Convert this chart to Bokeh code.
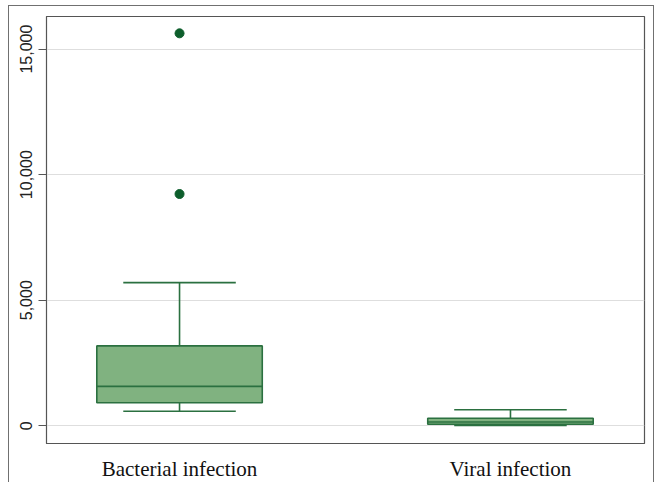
from bokeh.plotting import figure
from bokeh.models import FixedTicker, NumeralTickFormatter, Range1d, Spacer
from bokeh.layouts import column, row
from bokeh.embed import file_html
from bokeh.resources import INLINE

categories = ["Bacterial infection", "Viral infection"]
positions = [1, 2]
q1 = [915, 60]
median = [1570, 150]
q3 = [3180, 300]
lower = [580, 10]
upper = [5700, 640]
outlier_pos = [1, 1]
outlier_val = [15630, 9230]
y_ticks = [0, 5000, 10000, 15000]

box_w = 0.5
cap_w = 0.34

fill = "#80b280"
edge = "#2b7040"
pt = "#0d5e2c"

p = figure(width=646, height=477, output_backend="svg", toolbar_location=None,
           x_range=Range1d(0.598, 2.405), y_range=Range1d(-707, 16300),
           min_border_left=37, min_border_right=11, min_border_top=10, min_border_bottom=34)
p.styles = {"border-left": "1px solid #707070", "border-top": "1px solid #707070",
            "border-right": "1px solid #707070"}

p.outline_line_color = "#555555"
p.outline_line_width = 1.2
p.xgrid.grid_line_color = None
p.ygrid.grid_line_color = "#dedede"
p.ygrid.grid_line_width = 1.2

# whisker stems
p.segment(x0=positions, x1=positions, y0=q3, y1=upper, line_color=edge, line_width=1.6)
p.segment(x0=positions, x1=positions, y0=q1, y1=lower, line_color=edge, line_width=1.6)
# caps
p.segment(x0=[x - cap_w / 2 for x in positions], x1=[x + cap_w / 2 for x in positions],
          y0=upper, y1=upper, line_color=edge, line_width=1.6)
p.segment(x0=[x - cap_w / 2 for x in positions], x1=[x + cap_w / 2 for x in positions],
          y0=lower, y1=lower, line_color=edge, line_width=1.6)
# boxes
p.vbar(x=positions, width=box_w, top=q3, bottom=q1, fill_color=fill,
       line_color=edge, line_width=1.6)
# medians
p.segment(x0=[x - box_w / 2 for x in positions], x1=[x + box_w / 2 for x in positions],
          y0=median, y1=median, line_color=edge, line_width=1.6)
# outliers
p.scatter(x=outlier_pos, y=outlier_val, size=9, fill_color=pt, line_color=pt)

p.yaxis.ticker = FixedTicker(ticks=y_ticks)
p.yaxis.formatter = NumeralTickFormatter(format="0,0")
p.yaxis.major_label_orientation = "vertical"
p.yaxis.major_label_text_font = "Liberation Sans"
p.yaxis.major_label_text_font_size = "16px"
p.yaxis.major_label_text_color = "#222222"
p.yaxis.major_tick_out = 8
p.yaxis.major_tick_in = 0
p.yaxis.minor_tick_line_color = None
p.yaxis.major_tick_line_color = "#555555"
p.yaxis.axis_line_color = "#555555"
p.yaxis.major_label_standoff = 6

p.xaxis.ticker = FixedTicker(ticks=positions)
p.xaxis.major_label_overrides = {x: c for x, c in zip(positions, categories)}
p.xaxis.major_label_text_font = "Liberation Serif"
p.xaxis.major_label_text_font_size = "21px"
p.xaxis.major_label_text_color = "#111111"
p.xaxis.major_tick_line_color = None
p.xaxis.minor_tick_line_color = None
p.xaxis.major_tick_out = 0
p.xaxis.major_tick_in = 0
p.xaxis.axis_line_color = "#555555"
p.xaxis.major_label_standoff = 13

layout = column(Spacer(height=5), row(Spacer(width=8), p))

open("out.html", "w").write(file_html(layout, INLINE))
